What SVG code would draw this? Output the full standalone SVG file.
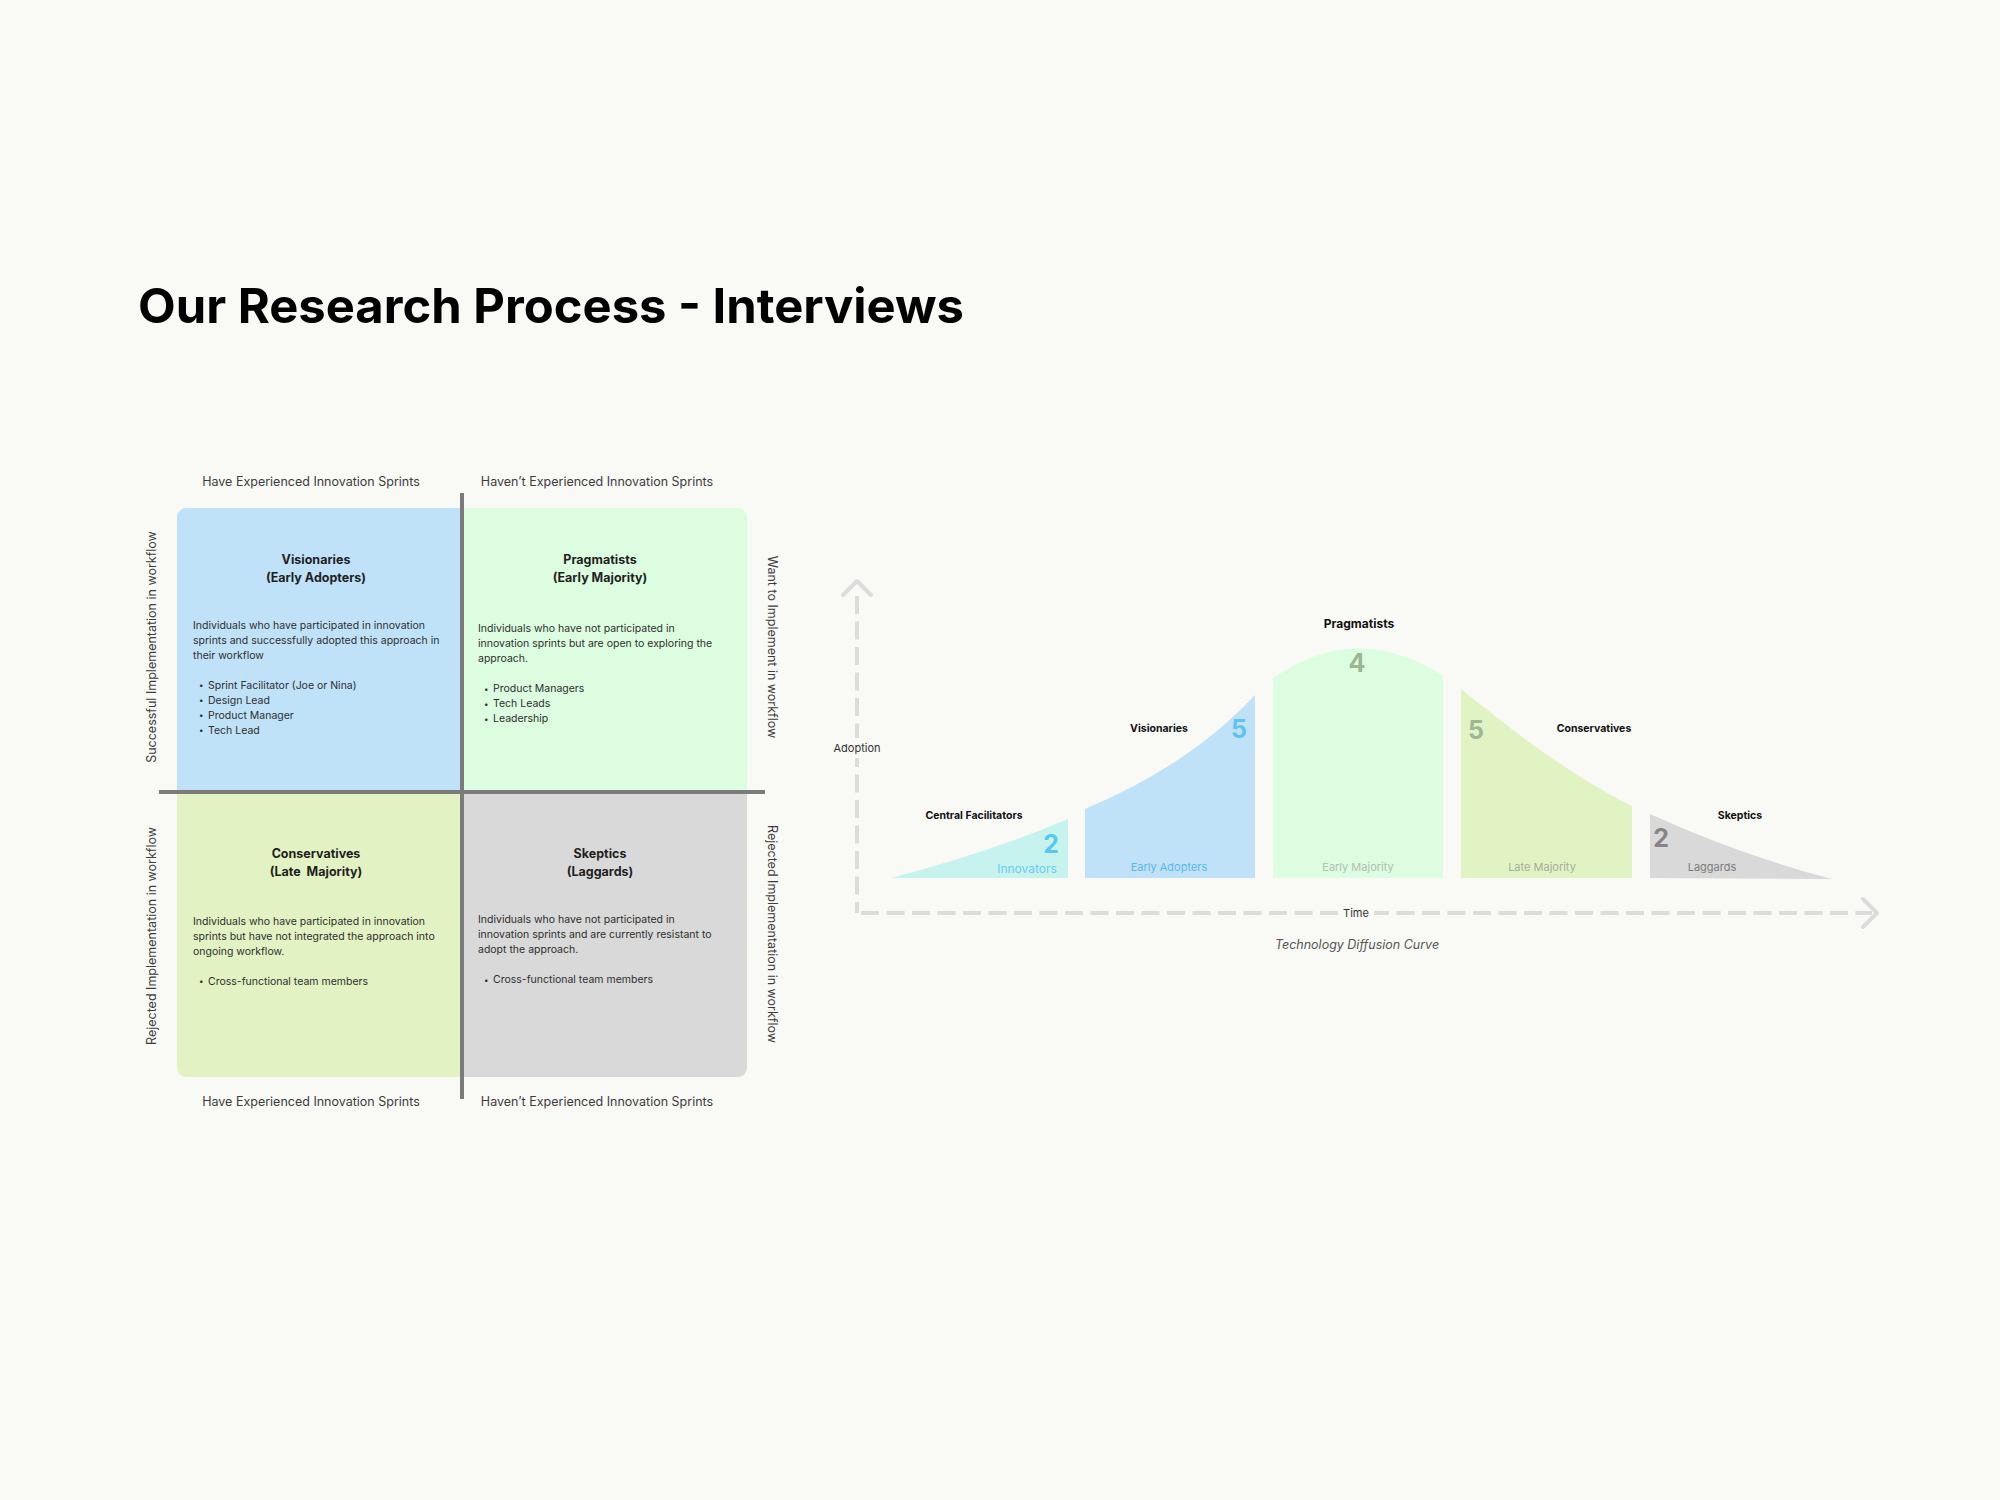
<svg xmlns="http://www.w3.org/2000/svg" width="2000" height="1500" viewBox="0 0 2000 1500">
<defs>
<style>
text{font-family:Inter,"Noto Sans","Liberation Sans",sans-serif}
.title{font-size:48px;font-weight:700;fill:#000}
.axl{font-size:12.5px;fill:#3c3c3c;text-anchor:middle}
.qt{font-size:12.5px;font-weight:700;fill:#1f1f1f;text-anchor:middle}
.qd{font-size:10.5px;fill:#2e2e2e}
.bul{font-size:8px;fill:#2e2e2e}
.cl{font-size:10.5px;font-weight:700;fill:#111;text-anchor:middle}
.num{font-size:25px;font-weight:700;text-anchor:middle}
.cat{font-size:11px;text-anchor:middle}
.div{stroke:#7b7b7b;stroke-width:4;fill:none}
.dash{stroke:#dcdcdc;stroke-width:4;fill:none;stroke-dasharray:18 7.5}
.chev{stroke:#dcdcdc;stroke-width:4;fill:none;stroke-linecap:round;stroke-linejoin:round}
</style>
<clipPath id="qclip"><rect x="177" y="508" width="570" height="569" rx="9"/></clipPath>
</defs>
<rect width="2000" height="1500" fill="#f9f9f6"/>
<text class="title" x="138" y="323" textLength="826" lengthAdjust="spacingAndGlyphs">Our Research Process - Interviews</text>

<g id="quadrant-labels">
<text class="axl" x="311" y="486">Have Experienced Innovation Sprints</text>
<text class="axl" x="597" y="486">Haven’t Experienced Innovation Sprints</text>
<text class="axl" x="311" y="1106">Have Experienced Innovation Sprints</text>
<text class="axl" x="597" y="1106">Haven’t Experienced Innovation Sprints</text>
<text class="axl" transform="translate(152,647) rotate(-90)" x="0" y="4">Successful Implementation in workflow</text>
<text class="axl" transform="translate(152,936) rotate(-90)" x="0" y="4">Rejected Implementation in workflow</text>
<text class="axl" transform="translate(772,647) rotate(90)" x="0" y="4">Want to Implement in workflow</text>
<text class="axl" transform="translate(772,934) rotate(90)" x="0" y="4">Rejected Implementation in workflow</text>
</g>

<g id="visionaries">
<rect x="177" y="508" width="285" height="284" fill="#bfe2f9" clip-path="url(#qclip)"/>
<text class="qt" x="316" y="563.5">Visionaries</text>
<text class="qt" x="316" y="582">(Early Adopters)</text>
<text class="qd" x="193" y="628.5">Individuals who have participated in innovation</text>
<text class="qd" x="193" y="643.5">sprints and successfully adopted this approach in</text>
<text class="qd" x="193" y="658.5">their workflow</text>
<text class="bul" x="199" y="688">•</text><text class="qd" x="208" y="688.5">Sprint Facilitator (Joe or Nina)</text>
<text class="bul" x="199" y="703">•</text><text class="qd" x="208" y="703.5">Design Lead</text>
<text class="bul" x="199" y="718">•</text><text class="qd" x="208" y="718.5">Product Manager</text>
<text class="bul" x="199" y="733">•</text><text class="qd" x="208" y="733.5">Tech Lead</text>
</g>

<g id="pragmatists">
<rect x="462" y="508" width="285" height="284" fill="#dcfde0" clip-path="url(#qclip)"/>
<text class="qt" x="600" y="563.5">Pragmatists</text>
<text class="qt" x="600" y="582">(Early Majority)</text>
<text class="qd" x="478" y="632">Individuals who have not participated in</text>
<text class="qd" x="478" y="647">innovation sprints but are open to exploring the</text>
<text class="qd" x="478" y="662">approach.</text>
<text class="bul" x="484" y="691.5">•</text><text class="qd" x="493" y="692">Product Managers</text>
<text class="bul" x="484" y="706.5">•</text><text class="qd" x="493" y="707">Tech Leads</text>
<text class="bul" x="484" y="721.5">•</text><text class="qd" x="493" y="722">Leadership</text>
</g>

<g id="conservatives">
<rect x="177" y="792" width="285" height="285" fill="#e2f2c3" clip-path="url(#qclip)"/>
<text class="qt" x="316" y="858" style="white-space:pre">Conservatives</text>
<text class="qt" x="316" y="876" style="white-space:pre">(Late  Majority)</text>
<text class="qd" x="193" y="924.5">Individuals who have participated in innovation</text>
<text class="qd" x="193" y="939.5">sprints but have not integrated the approach into</text>
<text class="qd" x="193" y="954.5">ongoing workflow.</text>
<text class="bul" x="199" y="984">•</text><text class="qd" x="208" y="984.5">Cross-functional team members</text>
</g>

<g id="skeptics">
<rect x="462" y="792" width="285" height="285" fill="#d9d9d9" clip-path="url(#qclip)"/>
<text class="qt" x="600" y="858">Skeptics</text>
<text class="qt" x="600" y="876">(Laggards)</text>
<text class="qd" x="478" y="923">Individuals who have not participated in</text>
<text class="qd" x="478" y="938">innovation sprints and are currently resistant to</text>
<text class="qd" x="478" y="953">adopt the approach.</text>
<text class="bul" x="484" y="982.5">•</text><text class="qd" x="493" y="983">Cross-functional team members</text>
</g>

<g id="connectors">
<line class="div" x1="462" y1="493" x2="462" y2="1099"/>
<line class="div" x1="159" y1="792" x2="765" y2="792"/>
<line class="dash" x1="857" y1="596" x2="857" y2="913"/>
<line class="dash" x1="861" y1="913" x2="1872" y2="913"/>
<path class="chev" d="M843 595 L857 581 L871 595"/>
<path class="chev" d="M1863 899 L1877 913 L1863 927"/>
<rect x="828" y="738" width="58" height="20" fill="#f9f9f6"/>
<rect x="1338" y="903" width="36" height="20" fill="#f9f9f6"/>
<text x="857" y="752" font-size="11" fill="#333" text-anchor="middle">Adoption</text>
<text x="1356" y="917" font-size="11" fill="#333" text-anchor="middle">Time</text>
</g>

<g id="innovators">
<path d="M891 878 Q990 852 1068 819 L1068 878 Z" fill="#c7f3ef"/>
<text class="cl" x="974" y="818.5">Central Facilitators</text>
<text class="num" x="1051" y="853" fill="#5cc6ee">2</text>
<text class="cat" x="1027" y="872.5" fill="#6ccaf0" style="font-size:12px">Innovators</text>
</g>

<g id="early-adopters">
<path d="M1085 878 L1085 809 Q1190 765 1255 695 L1255 878 Z" fill="#bfe2f9"/>
<text class="cl" x="1159" y="731.5">Visionaries</text>
<text class="num" x="1239" y="738" fill="#5ec3ef">5</text>
<text class="cat" x="1169" y="871" fill="#5ab8e8">Early Adopters</text>
</g>

<g id="early-majority">
<path d="M1273 878 L1273 678 Q1358 620 1443 676 L1443 878 Z" fill="#dcfde0"/>
<text class="cl" x="1359" y="628" style="font-size:12px">Pragmatists</text>
<text class="num" x="1357" y="672" fill="#9db592">4</text>
<text class="cat" x="1358" y="871" fill="#b2c0b2">Early Majority</text>
</g>

<g id="late-majority">
<path d="M1461 878 L1461 689 C1500 720 1560 770 1632 806 L1632 878 Z" fill="#e2f3c3"/>
<text class="cl" x="1594" y="732">Conservatives</text>
<text class="num" x="1476" y="738.5" fill="#a0b594">5</text>
<text class="cat" x="1542" y="871" fill="#a4ad9c">Late Majority</text>
</g>

<g id="laggards">
<path d="M1650 878 L1650 814 Q1740 855 1832 879 Z" fill="#d9d9d9"/>
<text class="cl" x="1740" y="818.5">Skeptics</text>
<text class="num" x="1661" y="846.5" fill="#858585">2</text>
<text class="cat" x="1712" y="871" fill="#7c7c7c">Laggards</text>
</g>

<text x="1357" y="949" font-size="12.5" font-style="italic" fill="#555" text-anchor="middle">Technology Diffusion Curve</text>
</svg>
